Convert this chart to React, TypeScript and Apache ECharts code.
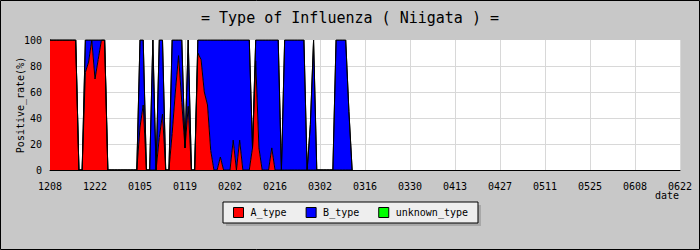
import React, { useEffect, useRef } from "react";
import * as echarts from "echarts";

// Daily categories: 2010-12-08 .. 2011-06-22 (MMDD)
const START = Date.UTC(2010, 11, 8);
const DAY_COUNT = 197;
const dates: string[] = [];
for (let i = 0; i < DAY_COUNT; i++) {
  const d = new Date(START + i * 86400000);
  const mm = String(d.getUTCMonth() + 1).padStart(2, "0");
  const dd = String(d.getUTCDate()).padStart(2, "0");
  dates.push(mm + dd);
}

const seriesNames = ["A_type", "B_type", "unknown_type"];

// Positive rate (%) per day
const aType = [
  100, 100, 100, 100, 100, 100, 100, 100, 100,
  0, 0,
  75, 83, 100, 70, 85, 100, 100,
  0, 0, 0, 0, 0, 0, 0, 0, 0, 0,
  33, 50,
  0, 0,
  0,
  0,
  25, 43,
  0, 0,
  28, 60, 88, 52, 17, 49,
  0, 0,
  90, 85, 60, 50, 15,
  0, 0,
  10,
  0, 0, 0,
  23,
  0,
  23,
  0, 0, 0,
  17, 84, 17,
  0, 0, 0,
  17,
  0, 0, 0, 0, 0, 0, 0, 0, 0, 0, 0, 0, 0, 0, 0, 0, 0, 0, 0, 0, 0, 0, 0, 0, 0,
];

const bType = [
  0, 0, 0, 0, 0, 0, 0, 0, 0,
  0, 0,
  25, 17, 0, 30, 15, 0, 0,
  0, 0, 0, 0, 0, 0, 0, 0, 0, 0,
  67, 50,
  0, 0,
  100,
  0,
  75, 57,
  0, 0,
  72, 40, 12, 48, 0, 51,
  0, 0,
  10, 15, 40, 50, 85,
  100, 100,
  90,
  100, 100, 100,
  77,
  100,
  77,
  100, 100, 100,
  0, 16, 83,
  100, 100, 100,
  83,
  100, 100,
  0,
  100, 100, 100, 100, 100, 100, 100,
  0,
  35,
  100,
  0, 0, 0, 0, 0, 0,
  100, 100, 100, 100,
  45,
  0,
];

const unknownType = [
  0, 0, 0, 0, 0, 0, 0, 0, 0, 0, 0, 0, 0, 0, 0, 0, 0, 0, 0, 0,
  0, 0, 0, 0, 0, 0, 0, 0, 0, 0, 0, 0, 0, 0, 0, 0, 0, 0, 0, 0,
  0, 0, 0, 0, 0, 0, 0, 0, 0, 0, 0, 0, 0, 0, 0, 0, 0, 0, 0, 0,
  0, 0, 0, 0, 0, 0, 0, 0, 0, 0, 0, 0, 0, 0, 0, 0, 0, 0, 0, 0,
  0, 0, 0, 0, 0, 0, 0, 0, 0, 0, 0, 0, 0, 0, 0,
];

const seriesColors = ["#ff0000", "#0000ff", "#00ff00"];
const FONT = "'DejaVu Sans Mono', 'Liberation Mono', monospace";

export default function App() {
  const ref = useRef<HTMLDivElement>(null);
  useEffect(() => {
    document.body.style.margin = "0";
    if (!ref.current) return;
    const chart = echarts.init(ref.current, null, { renderer: "svg" });
    const values = [aType, bType, unknownType];
    chart.setOption({
      animation: false,
      backgroundColor: "#c8c8c8",
      title: {
        text: "= Type of Influenza ( Niigata ) =",
        left: "center",
        top: 5,
        textStyle: { fontFamily: FONT, fontSize: 15, fontWeight: "normal", color: "#000" },
      },
      grid: {
        left: 50,
        right: 20,
        top: 40,
        bottom: 80,
        show: true,
        backgroundColor: "#ffffff",
        borderWidth: 0,
        containLabel: false,
        outerBoundsMode: "none",
      },
      legend: {
        left: 223,
        top: 202,
        orient: "horizontal",
        icon: "rect",
        itemWidth: 10,
        itemHeight: 10,
        itemGap: 19,
        padding: [5, 10, 5, 10],
        backgroundColor: "#eeeeee",
        borderColor: "#000",
        borderWidth: 1,
        borderRadius: 0,
        textStyle: { fontFamily: FONT, fontSize: 10, color: "#000", lineHeight: 11, padding: [0, 0, 0, 2] },
        data: seriesNames.map((n, i) => ({
          name: n,
          itemStyle: { color: seriesColors[i], borderColor: "#000", borderWidth: 1 },
        })),
      },
      xAxis: {
        type: "category",
        data: dates,
        boundaryGap: false,
        axisLine: { lineStyle: { color: "#000", width: 1 } },
        axisTick: { show: false },
        axisLabel: { interval: 13, color: "#000", fontFamily: FONT, fontSize: 10, margin: 11, hideOverlap: false },
        splitLine: { show: true, interval: 13, lineStyle: { color: "#d8d8d8", width: 1 } },
      },
      yAxis: {
        type: "value",
        min: 0,
        max: 100,
        interval: 20,
        name: "Positive_rate(%)",
        nameLocation: "middle",
        nameGap: 25,
        nameMoveOverlap: false,
        nameTextStyle: { fontFamily: FONT, fontSize: 10, color: "#000" },
        axisLine: { show: true, lineStyle: { color: "#000", width: 1 } },
        axisTick: { show: true, inside: true, length: 5, lineStyle: { color: "#000" } },
        minorTick: { show: true, splitNumber: 2, length: 5, lineStyle: { color: "#000" } },
        axisLabel: { color: "#000", fontFamily: FONT, fontSize: 10, margin: 8 },
        splitLine: { show: true, showMinLine: false, showMaxLine: false, lineStyle: { color: "#d8d8d8", width: 1 } },
      },
      graphic: [
        {
          type: "rect",
          shape: { x: 226, y: 205, width: 255, height: 21 },
          style: { fill: "#a8a8a8" },
          z: 0,
          silent: true,
        },
        {
          type: "text",
          right: 21,
          top: 190,
          style: { text: "date", font: "10px " + FONT, fill: "#000" },
        },
        {
          type: "rect",
          shape: { x: 0.5, y: 0.5, width: 699, height: 249 },
          style: { fill: "none", stroke: "#000", lineWidth: 1 },
          silent: true,
        },
      ],
      series: seriesNames.map((n, i) => ({
        name: n,
        type: "line",
        stack: "total",
        data: values[i],
        symbol: "none",
        showSymbol: false,
        itemStyle: { color: seriesColors[i] },
        lineStyle: { color: "#000", width: 1 },
        areaStyle: { color: seriesColors[i], opacity: 1 },
        emphasis: { disabled: true },
      })),
    });
    return () => chart.dispose();
  }, []);
  return <div ref={ref} style={{ width: 700, height: 250 }} />;
}
